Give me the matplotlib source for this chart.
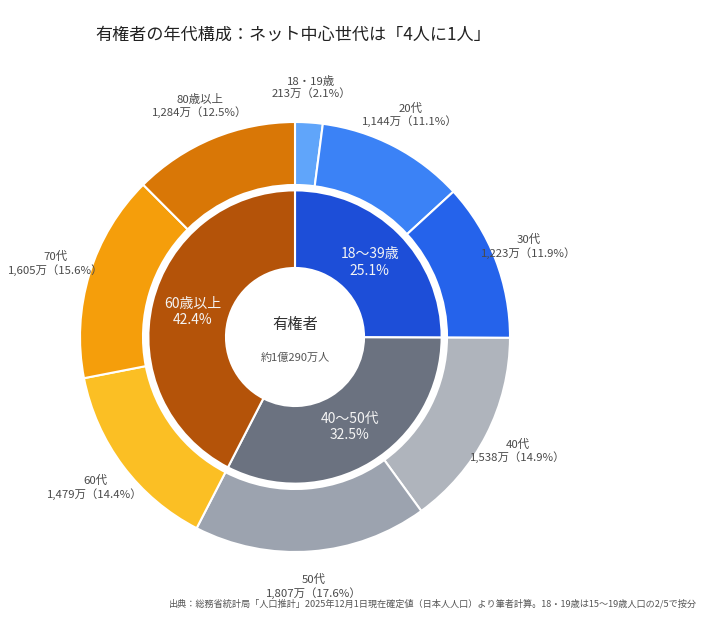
import numpy as np
import matplotlib
matplotlib.use("Agg")
import matplotlib.pyplot as plt

plt.rcParams['font.family'] = ['Noto Sans CJK JP', 'DejaVu Sans']

# outer ring: age bands (万人)
outer_names = ["18・19歳", "20代", "30代", "40代", "50代", "60代", "70代", "80歳以上"]
outer_values = [213, 1144, 1223, 1538, 1807, 1479, 1605, 1284]
outer_pct = [2.1, 11.1, 11.9, 14.9, 17.6, 14.4, 15.6, 12.5]
outer_colors = ["#60A5FA", "#3B82F6", "#2563EB", "#AFB4BC",
                "#9CA3AF", "#FBBF24", "#F59E0B", "#D97706"]

# inner ring: groups
inner_names = ["18〜39歳", "40〜50代", "60歳以上"]
inner_values = [2580, 3345, 4368]
inner_pct = [25.1, 32.5, 42.4]
inner_colors = ["#1D4ED8", "#6B7280", "#B45309"]

W, H = 717, 625
cx, cy, R = 295, 337, 215

fig = plt.figure(figsize=(W / 100, H / 100), dpi=100)
ax = fig.add_axes([0, 0, 1, 1])

outer_labels = [f"{n}\n{v:,}万（{p}%）" for n, v, p in zip(outer_names, outer_values, outer_pct)]
_, otexts = ax.pie(outer_values, radius=1.0, colors=outer_colors, labels=outer_labels,
                   labeldistance=1.163, startangle=90, counterclock=False,
                   wedgeprops=dict(width=0.293, edgecolor='white', linewidth=1.5),
                   textprops=dict(fontsize=8.2, color='#4a4a4a'), frame=True)
for t in otexts:
    t.set_ha('center')
    t.set_va('center')

inner_labels = [f"{n}\n{p}%" for n, p in zip(inner_names, inner_pct)]
_, itexts = ax.pie(inner_values, radius=0.682, colors=inner_colors, labels=inner_labels,
                   labeldistance=0.72, startangle=90, counterclock=False,
                   wedgeprops=dict(width=0.361, edgecolor='white', linewidth=1.5),
                   textprops=dict(fontsize=10, color='#f4f4f4'), frame=True)
for t in itexts:
    t.set_ha('center')
    t.set_va('center')

ax.set_xlim(-cx / R, (W - cx) / R)
ax.set_ylim((cy - H) / R, cy / R)
ax.set_aspect('auto')
ax.axis('off')

ax.text(0, 12 / R, "有権者", ha='center', va='center', fontsize=11, color='#333333')
ax.text(0, -21 / R, "約1億290万人", ha='center', va='center', fontsize=8, color='#555555')

fig.text(293 / W, 1 - 35 / H, "有権者の年代構成：ネット中心世代は「4人に1人」",
         ha='center', va='center', fontsize=12.3, color='#222222')
fig.text(697 / W, 1 - 604 / H,
         "出典：総務省統計局「人口推計」2025年12月1日現在確定値（日本人人口）より筆者計算。18・19歳は15〜19歳人口の2/5で按分",
         ha='right', va='center', fontsize=6.6, color='#555555')

fig.savefig("out.png", dpi=100, facecolor='white')
